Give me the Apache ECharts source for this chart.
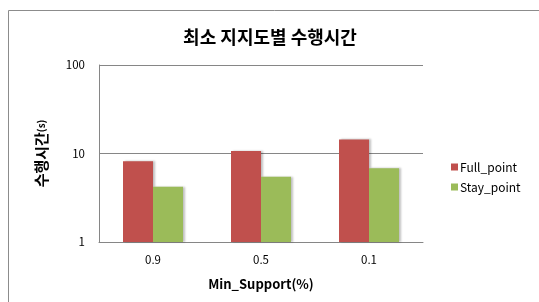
<!DOCTYPE html>
<html><head><meta charset="utf-8">
<script src="https://cdn.jsdelivr.net/npm/echarts@6/dist/echarts.min.js"></script>
<style>html,body{margin:0;padding:0;background:#fff}#c{width:539px;height:302px}</style>
</head><body><div id="c"></div>
<script>
const categories = ['0.9', '0.5', '0.1'];
const fullPoint = [8.2, 10.7, 14.4];
const stayPoint = [4.2, 5.45, 6.8];
const yTicks = [1, 10, 100];
const FONT = '"Noto Sans CJK KR", "Noto Sans", sans-serif';

const chart = echarts.init(document.getElementById('c'));
chart.setOption({
  animation: false,
  backgroundColor: '#fff',
  textStyle: { fontFamily: FONT },
  graphic: [{
    type: 'rect', left: 6, top: 8, shape: { width: 540, height: 300 },
    style: { fill: 'none', stroke: '#8c8c8c', lineWidth: 1 }
  }],
  title: {
    text: '최소 지지도별 수행시간', left: 265, top: 23, textAlign: 'center',
    textStyle: { fontSize: 18, fontWeight: 'bold', color: '#000', fontFamily: FONT }
  },
  legend: {
    orient: 'vertical', left: 446, top: 156, itemWidth: 7, itemHeight: 7, itemGap: 8,
    icon: 'rect',
    textStyle: { fontSize: 12, color: '#000', fontFamily: FONT, padding: [0, 0, 0, -3] },
    data: ['Full_point', 'Stay_point']
  },
  grid: { left: 99, top: 65, width: 324, height: 177, containLabel: false },
  xAxis: {
    type: 'category', data: categories,
    name: 'Min_Support(%)', nameLocation: 'middle', nameGap: 36,
    nameTextStyle: { fontSize: 13, fontWeight: 'bold', color: '#000', fontFamily: FONT },
    axisLine: { lineStyle: { color: '#868686' } },
    axisTick: { show: false },
    axisLabel: { fontSize: 11.5, color: '#000', margin: 12 }
  },
  yAxis: {
    type: 'log', logBase: 10, min: 1, max: 100,
    name: '수행시간{s|(s)}', nameLocation: 'middle', nameGap: 50, nameRotate: 90,
    nameTextStyle: { fontSize: 15, fontWeight: 'bold', color: '#000', fontFamily: FONT,
      rich: { s: { fontSize: 10, fontWeight: 'bold', color: '#000', fontFamily: FONT } } },
    axisLine: { show: true, lineStyle: { color: '#868686' } },
    axisTick: { show: false },
    axisLabel: { fontSize: 11.5, color: '#000', margin: 14,
      formatter: v => yTicks.includes(Math.round(v)) ? String(Math.round(v)) : '' },
    splitLine: { lineStyle: { color: '#868686' } }
  },
  series: [
    { name: 'Full_point', type: 'bar', data: fullPoint, barWidth: 30, barGap: '0%',
      itemStyle: { color: '#C0504D', shadowColor: 'rgba(0,0,0,0.25)', shadowOffsetX: 2, shadowBlur: 2 } },
    { name: 'Stay_point', type: 'bar', data: stayPoint, barWidth: 30, barGap: '0%',
      itemStyle: { color: '#9BBB59', shadowColor: 'rgba(0,0,0,0.25)', shadowOffsetX: 2, shadowBlur: 2 } }
  ]
});
</script></body></html>
